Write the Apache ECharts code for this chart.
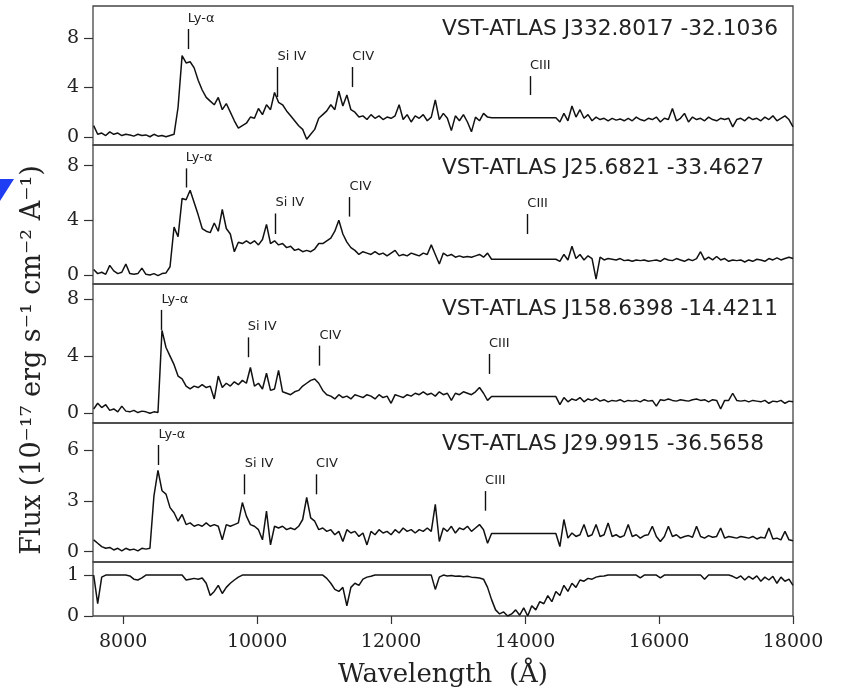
<!DOCTYPE html>
<html>
<head>
<meta charset="utf-8">
<script src="https://cdn.jsdelivr.net/npm/echarts@6/dist/echarts.min.js"></script>
<style>
  html, body { margin: 0; background: #fff; }
  #main { width: 843px; height: 694px; }
</style>
</head>
<body>
<div id="main"></div>
<script>
// spectra sampled on a regular wavelength grid (Angstrom)
var WAVE_START = 7560;
var WAVE_STEP = 60;

var objectNames = [
  'VST-ATLAS J332.8017 -32.1036',
  'VST-ATLAS J25.6821 -33.4627',
  'VST-ATLAS J158.6398 -14.4211',
  'VST-ATLAS J29.9915 -36.5658'
];

// flux, 10^-17 erg/s/cm2/A
var flux1 = [
  0.9, 0.2, 0.3, 0.1, 0.4, 0.2, 0.3, 0.1, 0.2, 0.15,
  0.05, 0.2, 0.1, 0.15, 0.0, 0.2, 0.05, 0.1, 0.0, 0.1,
  0.2, 2.4, 6.6, 6.0, 6.1, 5.6, 4.6, 3.8, 3.2, 2.9,
  2.6, 3.2, 2.2, 2.7, 2.0, 1.3, 0.7, 0.9, 1.1, 1.6,
  1.5, 2.3, 1.8, 2.6, 2.2, 3.6, 2.8, 2.6, 2.1, 1.7,
  1.3, 0.9, 0.6, -0.2, 0.2, 0.6, 1.5, 1.8, 2.1, 2.6,
  2.2, 3.7, 2.5, 3.4, 2.2, 2.0, 1.6, 1.7, 1.4, 1.8,
  1.5, 1.7, 1.4, 1.6, 1.5, 1.7, 2.6, 1.4, 1.8, 1.2,
  1.7, 1.5, 1.8, 1.3, 1.6, 3.0, 1.4, 1.9, 1.5, 0.5,
  1.7, 1.3, 1.8, 1.2, 0.4, 1.6, 1.3, 1.9, 1.6, 1.55,
  1.55, 1.55, 1.55, 1.55, 1.55, 1.55, 1.55, 1.55, 1.55, 1.55,
  1.55, 1.55, 1.55, 1.55, 1.55, 1.55, 1.2, 1.9, 1.3, 2.5,
  1.6, 2.2, 1.5, 1.8, 1.3, 1.6, 1.4, 1.5, 1.3, 1.5,
  1.35, 1.45, 1.3, 1.5, 1.3, 1.6, 1.4, 1.3, 1.5, 1.4,
  1.6, 1.2, 1.5, 1.4, 2.3, 1.3, 1.5, 1.9, 1.2, 1.6,
  1.4, 1.5, 1.3, 1.6, 1.4, 1.3, 1.5, 1.4, 1.5, 0.8,
  1.4, 1.5, 1.3, 1.6, 1.4, 1.5, 1.3, 1.6, 1.4, 1.7,
  1.3, 1.5, 1.7, 1.4, 0.8
];
var flux2 = [
  0.4, 0.1, 0.2, 0.05, 0.7, 0.3, 0.1, 0.2, 0.8, 0.1,
  0.05, 0.1, 0.5, 0.05, 0.0, 0.1, -0.05, 0.1, 0.15, 0.6,
  3.5, 2.8, 5.6, 5.5, 6.2, 5.3, 4.4, 3.4, 3.2, 3.1,
  3.8, 3.2, 4.8, 3.4, 3.0, 1.7, 2.4, 2.3, 2.5, 2.3,
  2.5, 2.2, 2.6, 3.7, 2.3, 2.5, 2.2, 2.3, 2.0, 2.1,
  1.8, 1.9, 1.7, 1.8, 1.7, 1.9, 2.3, 2.3, 2.5, 2.7,
  3.2, 4.0, 3.0, 2.4, 2.0, 1.8, 1.5, 1.7, 1.6, 1.5,
  1.7, 1.5, 1.6, 1.4, 1.6, 1.8, 1.4, 1.5, 1.4, 1.6,
  1.5, 1.4, 1.6, 1.5, 2.2, 1.5, 0.8, 1.6, 1.4, 1.5,
  1.3, 1.4, 1.3, 1.35, 1.3, 1.4, 1.5, 1.3, 1.6, 1.15,
  1.15, 1.15, 1.15, 1.15, 1.15, 1.15, 1.15, 1.15, 1.15, 1.15,
  1.15, 1.15, 1.15, 1.15, 1.15, 1.15, 1.0, 1.5, 1.1, 2.1,
  1.2, 1.5, 1.1, 1.4, 1.2, -0.3, 1.3, 1.1, 1.2, 1.15,
  1.1, 1.2, 1.05, 1.1, 1.0, 1.1, 1.05, 1.1, 1.0, 1.05,
  1.1, 1.0, 1.2, 1.1, 1.05, 1.2, 1.1, 1.0, 1.15, 1.05,
  1.2, 1.7, 1.1, 1.3, 1.1, 1.35, 1.1, 1.2, 1.0, 1.1,
  1.05, 1.1, 0.95, 1.1, 1.0, 1.15, 1.1, 1.0, 1.2, 1.1,
  1.25, 1.1, 1.2, 1.3, 1.2
];
var flux3 = [
  0.3, 0.7, 0.4, 0.6, 0.2, 0.3, 0.1, 0.5, 0.15, 0.1,
  0.2, 0.05, 0.15, 0.1, 0.0, 0.1, 0.05, 5.8, 4.6, 4.0,
  3.4, 2.6, 2.4, 1.9, 1.7, 1.9, 1.8, 2.0, 1.8, 1.9,
  1.0, 2.6, 1.8, 2.1, 1.9, 2.2, 2.0, 2.3, 2.1, 3.2,
  1.9, 2.1, 1.7, 2.8, 1.6, 1.7, 3.0, 1.5, 1.4, 1.3,
  1.5, 1.6, 1.9, 2.1, 2.3, 2.4, 2.1, 1.6, 1.3, 1.2,
  1.0, 1.3, 1.1, 1.2, 1.0, 1.3, 1.2, 1.1, 1.3, 1.2,
  1.0, 1.3, 1.1, 1.2, 0.7, 1.3, 1.2, 1.1, 1.3, 1.2,
  1.4, 1.3, 1.5, 1.3, 1.4, 1.2, 1.5, 1.3, 1.4, 0.9,
  1.4, 1.3, 1.5, 1.4, 1.3, 1.5, 1.8, 1.4, 0.9, 1.17,
  1.17, 1.17, 1.17, 1.17, 1.17, 1.17, 1.17, 1.17, 1.17, 1.17,
  1.17, 1.17, 1.17, 1.17, 1.17, 1.17, 0.6, 1.1, 0.8, 1.0,
  0.9, 1.1, 0.8, 1.0, 0.9, 1.05, 0.85, 0.95, 0.8, 0.9,
  0.85, 0.95, 0.8, 0.9, 0.85, 0.9, 0.8, 0.95, 0.85, 0.9,
  0.5, 0.95, 0.9, 1.0, 0.9, 0.85, 0.95, 0.9, 0.85, 0.95,
  1.0, 0.9, 0.95, 0.8, 0.95, 0.9, 0.3, 0.9, 0.9, 1.4,
  0.9, 0.85, 0.9, 0.8, 0.9, 0.85, 0.8, 0.9, 0.7, 0.85,
  0.8, 0.9, 0.7, 0.85, 0.8
];
var flux4 = [
  0.7, 0.5, 0.3, 0.2, 0.25, 0.1, 0.2, 0.05, 0.2, 0.1,
  0.15, 0.05, 0.2, 0.15, 0.2, 3.3, 4.8, 3.6, 3.4, 2.6,
  2.3, 1.8, 2.2, 1.6, 1.7, 1.5, 1.6, 1.5, 1.7, 1.5,
  1.6, 1.5, 0.7, 1.6, 1.5, 1.6, 1.7, 2.9, 2.1, 1.6,
  1.5, 1.3, 0.7, 2.4, 0.4, 1.5, 1.4, 1.5, 1.3, 1.4,
  1.3, 1.5, 1.9, 3.2, 2.0, 1.8, 1.3, 1.4, 1.2, 1.3,
  1.0, 1.2, 0.6, 1.3, 1.1, 1.2, 0.9, 1.1, 0.4, 1.2,
  1.0, 1.3, 1.1, 1.2, 1.0, 1.3, 1.1, 1.4, 1.2, 1.3,
  1.1, 1.3, 1.2, 1.4, 1.2, 2.8, 0.6, 1.4, 1.2, 1.5,
  1.1, 1.4, 1.3, 1.5, 1.2, 1.4, 1.6, 1.3, 0.5, 1.07,
  1.07, 1.07, 1.07, 1.07, 1.07, 1.07, 1.07, 1.07, 1.07, 1.07,
  1.07, 1.07, 1.07, 1.07, 1.07, 1.07, 0.3, 1.9, 0.8, 1.1,
  0.9, 1.0, 1.6, 0.9, 1.0, 1.6, 0.9, 1.0, 1.7, 0.9,
  1.0, 0.85, 0.95, 1.6, 0.9, 1.0, 0.8, 0.95, 1.0, 1.5,
  0.9, 0.6, 0.9, 1.5, 0.9, 1.0, 0.8, 0.9, 0.95, 0.85,
  1.5, 0.9, 0.8, 0.95, 0.85, 0.9, 1.4, 0.8, 0.9, 0.85,
  0.8, 0.9, 0.85, 0.8, 0.9, 0.75, 0.85, 0.8, 1.4, 0.75,
  0.8, 0.7, 1.2, 0.7, 0.65
];
// telluric transmission
var telluric = [
  1.0, 0.3, 0.95, 1.0, 1.0, 1.0, 1.0, 1.0, 1.0, 0.98,
  0.9, 0.88, 0.93, 1.0, 1.0, 1.0, 1.0, 1.0, 1.0, 1.0,
  1.0, 1.0, 1.0, 0.88, 0.9, 0.92, 0.9, 0.93, 0.8, 0.5,
  0.6, 0.75, 0.55, 0.7, 0.8, 0.88, 0.95, 1.0, 1.0, 1.0,
  1.0, 1.0, 1.0, 1.0, 1.0, 1.0, 1.0, 1.0, 1.0, 1.0,
  1.0, 1.0, 1.0, 1.0, 1.0, 1.0, 1.0, 1.0, 0.92, 0.8,
  0.65, 0.6, 0.7, 0.25, 0.7, 0.8, 0.75, 0.9, 0.95, 0.97,
  1.0, 1.0, 1.0, 1.0, 1.0, 1.0, 1.0, 1.0, 1.0, 1.0,
  1.0, 1.0, 1.0, 1.0, 1.0, 0.65, 0.95, 1.0, 0.98, 0.99,
  0.97, 0.98, 0.96, 0.97, 0.95, 0.94, 0.93, 0.9, 0.7, 0.4,
  0.15, 0.05, 0.1, 0.0, 0.05, 0.15, 0.02, 0.2, 0.0, 0.25,
  0.15, 0.35, 0.3, 0.5, 0.35, 0.6, 0.5, 0.75, 0.6, 0.8,
  0.7, 0.88, 0.85, 0.92, 0.9, 0.95, 0.97, 0.98, 1.0, 1.0,
  1.0, 1.0, 1.0, 1.0, 1.0, 1.0, 0.93, 1.0, 1.0, 1.0,
  1.0, 0.93, 1.0, 1.0, 1.0, 1.0, 1.0, 1.0, 1.0, 1.0,
  1.0, 1.0, 0.9, 1.0, 1.0, 1.0, 1.0, 1.0, 1.0, 0.97,
  0.92, 0.98, 0.88, 0.97, 0.9, 0.98, 0.85, 0.95, 0.88, 0.97,
  0.8, 0.95, 0.85, 0.9, 0.75
];

// emission line names and observed wavelengths per object
var lineNames = ['Ly-α', 'Si IV', 'CIV', 'CIII'];
var lineWaves1 = [8965, 10303, 11422, 14074];
var lineWaves2 = [8935, 10275, 11380, 14034];
var lineWaves3 = [8572, 9862, 10930, 13462];
var lineWaves4 = [8528, 9815, 10880, 13403];

var xTicks = [8000, 10000, 12000, 14000, 16000, 18000];

// ---- layout ----
var fluxes = [flux1, flux2, flux3, flux4, telluric];
var waves = [lineWaves1, lineWaves2, lineWaves3, lineWaves4];
var panels = [
  { top: 6,   height: 139, min: -0.67, max: 10.63, ticks: [0, 4, 8] },
  { top: 145, height: 139, min: -0.66, max: 9.51,  ticks: [0, 4, 8] },
  { top: 284, height: 139, min: -0.68, max: 9.04,  ticks: [0, 4, 8] },
  { top: 423, height: 139, min: -0.61, max: 7.6,   ticks: [0, 3, 6] },
  { top: 562, height: 54,  min: 0,     max: 1.32,  ticks: [0, 1] }
];
// marker tick extents [low, high] in flux units, per panel per line
var markExtent = [
  [[7.13, 8.76], [3.23, 5.67], [4.04, 5.67], [3.39, 4.93]],
  [[6.4, 7.8],   [3.0, 4.5],   [4.27, 5.7],  [3.0, 4.46]],
  [[5.83, 7.23], [3.92, 5.31], [3.33, 4.73], [2.75, 4.15]],
  [[5.12, 6.3],  [3.39, 4.57], [3.39, 4.57], [2.42, 3.58]]
];
var titleTops = [18, 157, 298, 433];

var SERIF = 'DejaVu Serif';
var SANS = 'DejaVu Sans';
var INK = '#222';

function toPairs(arr) {
  return arr.map(function (f, i) { return [WAVE_START + i * WAVE_STEP, f]; });
}

var chart = echarts.init(document.getElementById('main'), null, { renderer: 'canvas' });

var option = {
  animation: false,
  backgroundColor: '#fff',
  title: objectNames.map(function (t, i) {
    return {
      text: t, left: 442, top: titleTops[i], padding: 0,
      textStyle: { fontFamily: SANS, fontSize: 21.7, fontWeight: 'normal', color: INK }
    };
  }),
  grid: panels.map(function (p) {
    return { left: 93, right: 50, top: p.top, height: p.height, show: true,
      borderColor: '#444', borderWidth: 1.3, backgroundColor: 'transparent' };
  }),
  xAxis: panels.map(function (p, i) {
    var last = i === panels.length - 1;
    return {
      type: 'value', gridIndex: i, min: 7550, max: 18000, show: last,
      splitLine: { show: false },
      axisLine: { show: false },
      axisTick: { show: true, customValues: xTicks, length: 8, lineStyle: { color: '#333', width: 1.2 } },
      axisLabel: { customValues: xTicks, margin: 17, fontFamily: SERIF, fontSize: 19, color: INK,
        formatter: function (v) { return String(v); } },
      name: last ? 'Wavelength  (Å)' : '',
      nameLocation: 'middle', nameGap: 46, nameMoveOverlap: false,
      nameTextStyle: { fontFamily: SERIF, fontSize: 26, color: INK, verticalAlign: 'top' }
    };
  }),
  yAxis: panels.map(function (p, i) {
    return {
      type: 'value', gridIndex: i, min: p.min, max: p.max,
      splitLine: { show: false },
      axisLine: { show: false },
      axisTick: { show: true, customValues: p.ticks, length: 9, lineStyle: { color: '#333', width: 1.2 } },
      axisLabel: { customValues: p.ticks, margin: 14, fontFamily: SERIF, fontSize: 19, color: INK }
    };
  }),
  series: fluxes.map(function (arr, i) {
    var s = {
      type: 'line', xAxisIndex: i, yAxisIndex: i,
      data: toPairs(arr), showSymbol: false, symbol: 'none',
      lineStyle: { color: '#111', width: 1.5 }
    };
    if (i < waves.length) {
      s.markLine = {
        silent: true, symbol: ['none', 'none'], animation: false,
        lineStyle: { color: '#111', width: 1.4, type: 'solid' },
        label: { show: true, position: 'end', formatter: '{b}', align: 'left', distance: 4,
          fontFamily: SANS, fontSize: 13, color: INK },
        data: waves[i].map(function (w, k) {
          return [
            { coord: [w, markExtent[i][k][0]], name: lineNames[k] },
            { coord: [w, markExtent[i][k][1]] }
          ];
        })
      };
    }
    return s;
  }),
  graphic: [
    {
      type: 'text', x: 33, y: 360, rotation: Math.PI / 2,
      style: { text: 'Flux (10⁻¹⁷ erg s⁻¹ cm⁻² A⁻¹)', font: '27px "DejaVu Serif"',
        fill: INK, align: 'center', verticalAlign: 'middle' }
    },
    {
      type: 'polygon',
      shape: { points: [[0, 179], [14, 179], [0, 201]] },
      style: { fill: '#1f3df2' }
    }
  ]
};

chart.setOption(option);
</script>
</body>
</html>
